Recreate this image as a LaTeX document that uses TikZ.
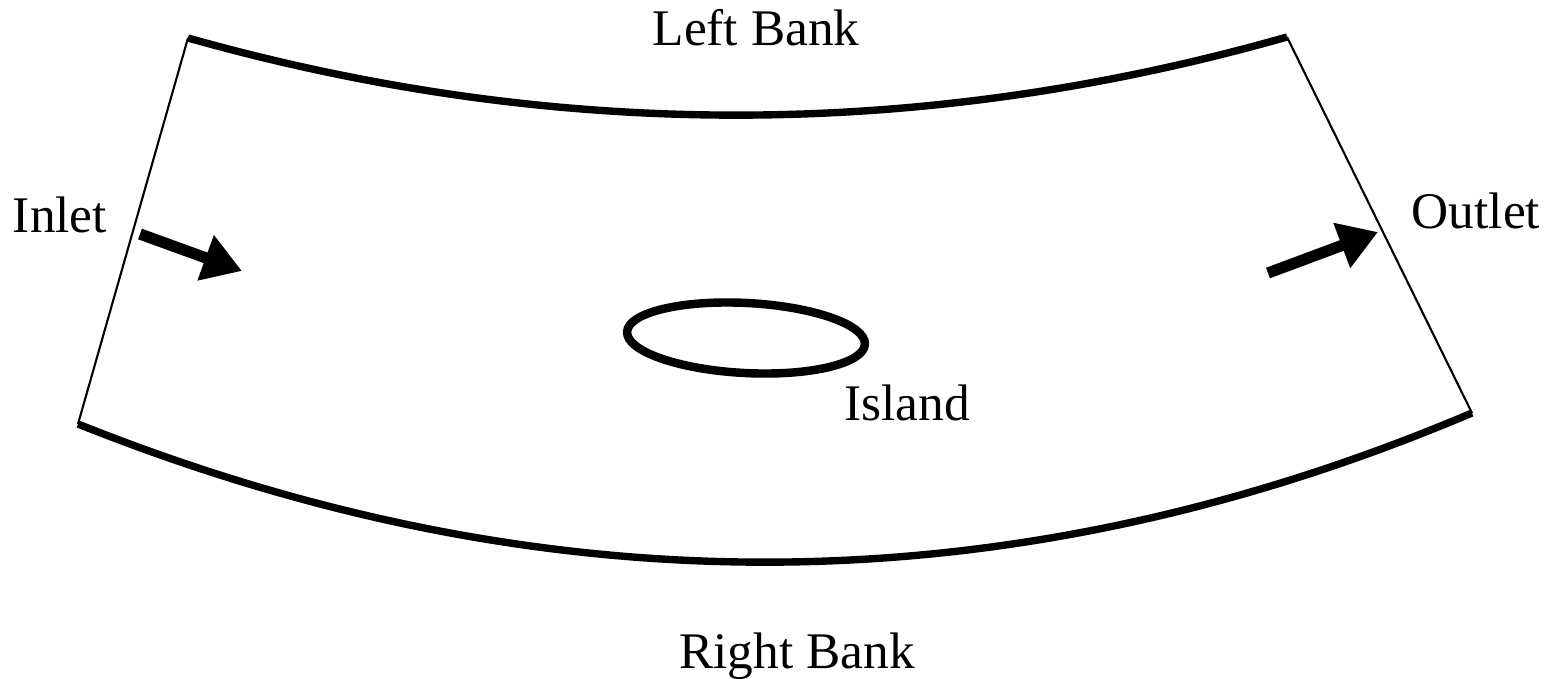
\documentclass[tikz,border=0pt]{standalone}
\usepackage{fontspec}
\setmainfont{Liberation Serif}
\usetikzlibrary{arrows.meta,shapes.geometric}
\begin{document}
\begin{tikzpicture}[x=0.01cm,y=-0.01cm,
  bank/.style={line width=2.1pt},
  edge/.style={line width=0.6pt},
  flow/.style={line width=3.2pt,-{Triangle[length=11pt,width=13pt]}},
  lbl/.style={font=\fontsize{14.6}{17}\selectfont,anchor=base,inner sep=0pt}]
\useasboundingbox (0,0) rectangle (1553,678);
\coordinate (lt) at (188,38);
\coordinate (rt) at (1287,37);
\coordinate (lb) at (78,424);
\coordinate (rb) at (1472,413);
\draw[bank] (lt) .. controls (554,141) and (921,141) .. (rt);
\draw[bank] (lb) .. controls (543,610) and (1007,610) .. (rb);
\draw[edge] (lt) -- (lb);
\draw[edge] (rt) -- (rb);
\node[draw,line width=2.4pt,ellipse,minimum width=2.38cm,minimum height=0.7cm,inner sep=0pt,rotate=-3] (island) at (746,338) {};
\coordinate (in1) at (140,234);
\coordinate (in2) at (242,271);
\coordinate (out1) at (1268,273);
\coordinate (out2) at (1378,232);
\draw[flow] (in1) -- (in2);
\draw[flow] (out1) -- (out2);
\node[lbl] (leftbank) at (756,45) {Left Bank};
\node[lbl] (inlet) at (60,232) {Inlet};
\node[lbl] (outlet) at (1476,228) {Outlet};
\node[lbl] (islandlbl) at (907,420) {Island};
\node[lbl] (rightbank) at (797,668) {Right Bank};
\end{tikzpicture}
\end{document}
